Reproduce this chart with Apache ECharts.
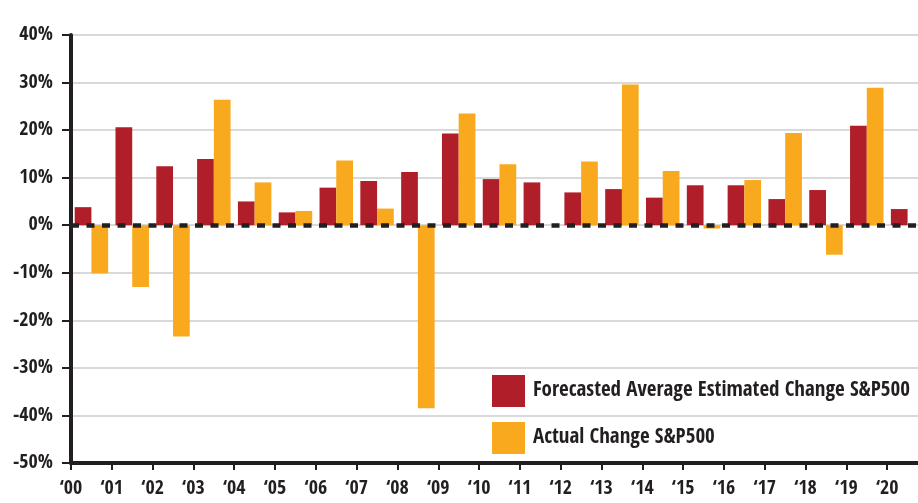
<!DOCTYPE html>
<html>
<head>
<meta charset="utf-8">
<script src="https://cdn.jsdelivr.net/npm/echarts@6/dist/echarts.min.js"></script>
<style>
html,body{margin:0;padding:0;background:#fff;}
#chart{width:918px;height:503px;}
</style>
</head>
<body>
<div id="chart"></div>
<script>
const years = ['2000','2001','2002','2003','2004','2005','2006','2007','2008','2009','2010',
  '2011','2012','2013','2014','2015','2016','2017','2018','2019','2020'];
const tickLabels = ['‘00','‘01','‘02','‘03','‘04','‘05','‘06','‘07','‘08','‘09','‘10',
  '‘11','‘12','‘13','‘14','‘15','‘16','‘17','‘18','‘19','‘20'];
const forecast = [3.8, 20.6, 12.4, 13.9, 5.0, 2.7, 7.9, 9.3, 11.2, 19.3, 9.7,
  9.0, 6.9, 7.6, 5.8, 8.4, 8.4, 5.5, 7.4, 20.9, 3.4];
const actual = [-10.1, -13.0, -23.4, 26.4, 9.0, 3.0, 13.6, 3.5, -38.5, 23.5, 12.8,
  0, 13.4, 29.6, 11.4, -0.7, 9.5, 19.4, -6.2, 28.9, null];
const yTicks = { min: -50, max: 40, step: 10 };

const FONT = '"Liberation Sans Narrow","Noto Sans Condensed","Open Sans Condensed","DejaVu Sans Condensed",sans-serif';
const INK = '#231f20';
const RED = '#b01f29';
const ORANGE = '#f9a91d';

const chart = echarts.init(document.getElementById('chart'), null, {renderer: 'canvas'});
chart.setOption({
  animation: false,
  backgroundColor: '#fff',
  grid: { left: 71, top: 35, height: 428, width: 857, containLabel: false, outerBoundsMode: 'none' },
  legend: {
    orient: 'vertical',
    left: 492, top: 375,
    itemWidth: 33, itemHeight: 32, itemGap: 15,
    padding: 0,
    icon: 'rect',
    textStyle: { fontFamily: FONT, fontWeight: 'bold', fontSize: 21, color: INK, padding: [0,0,0,3] },
    data: ['Forecasted Average Estimated Change S&P500', 'Actual Change S&P500']
  },
  xAxis: [
    {
      type: 'category', data: years, position: 'bottom',
      axisLine: { show: false }, axisTick: { show: false }, axisLabel: { show: false },
      splitLine: { show: false }
    },
    {
      type: 'value', min: 0, max: years.length, interval: 1, position: 'bottom',
      axisLine: { show: true, lineStyle: { color: INK, width: 4 } },
      axisTick: { show: true, length: 7, lineStyle: { color: INK, width: 2 } },
      splitLine: { show: false },
      axisLabel: {
        margin: 16,
        fontFamily: FONT, fontWeight: 'bold', fontSize: 20, color: INK,
        formatter: v => (tickLabels[v] !== undefined ? tickLabels[v] : '')
      }
    }
  ],
  yAxis: {
    type: 'value', min: yTicks.min, max: yTicks.max, interval: yTicks.step,
    axisLine: { show: true, lineStyle: { color: INK, width: 4 } },
    axisTick: { show: true, length: 9, lineStyle: { color: INK, width: 2 } },
    axisLabel: { margin: 18, fontFamily: FONT, fontWeight: 'bold', fontSize: 20, color: INK,
      formatter: '{value}%' },
    splitLine: { show: true, lineStyle: { color: '#cdcdcd', width: 1.5 } }
  },
  series: [
    {
      name: 'Forecasted Average Estimated Change S&P500',
      type: 'bar', xAxisIndex: 0, data: forecast,
      barGap: '0%', barCategoryGap: '18%',
      itemStyle: { color: RED },
      markLine: {
        silent: true, symbol: 'none', label: { show: false },
        lineStyle: { color: '#231f20', width: 4.5, type: [8, 7.5], opacity: 1 },
        data: [{ yAxis: 0 }]
      }
    },
    {
      name: 'Actual Change S&P500',
      type: 'bar', xAxisIndex: 0, data: actual,
      barGap: '0%', barCategoryGap: '18%',
      itemStyle: { color: ORANGE }
    }
  ]
});
</script>
</body>
</html>
